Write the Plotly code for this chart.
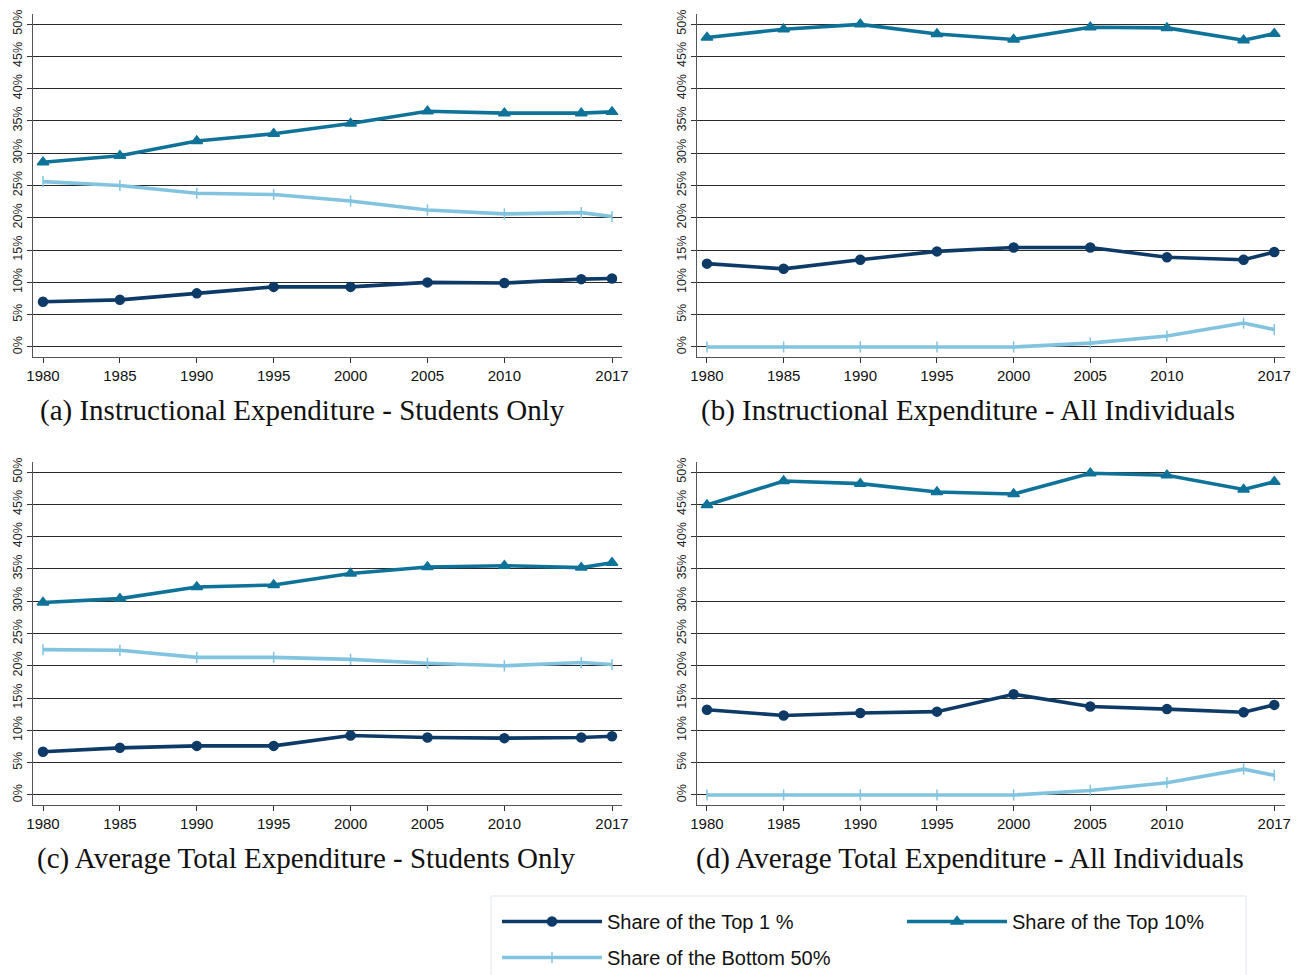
import plotly.graph_objects as go

years = [1980, 1985, 1990, 1995, 2000, 2005, 2010, 2015, 2017]
tick_years = [1980, 1985, 1990, 1995, 2000, 2005, 2010, 2017]

# (a) Instructional Expenditure - Students Only
a_top1 = [7.0, 7.3, 8.3, 9.3, 9.3, 10.0, 9.9, 10.5, 10.6]
a_top10 = [28.6, 29.6, 31.9, 33.0, 34.6, 36.5, 36.2, 36.2, 36.4]
a_bot50 = [25.6, 25.0, 23.8, 23.6, 22.6, 21.2, 20.6, 20.8, 20.2]

# (b) Instructional Expenditure - All Individuals
b_top1 = [12.9, 12.1, 13.5, 14.8, 15.4, 15.4, 13.9, 13.5, 14.7]
b_top10 = [47.9, 49.2, 49.95, 48.45, 47.6, 49.5, 49.4, 47.5, 48.5]
b_bot50 = [0.0, 0.0, 0.0, 0.0, 0.0, 0.6, 1.7, 3.7, 2.7]

# (c) Average Total Expenditure - Students Only
c_top1 = [6.7, 7.3, 7.6, 7.6, 9.2, 8.9, 8.8, 8.9, 9.1]
c_top10 = [29.8, 30.4, 32.2, 32.5, 34.3, 35.3, 35.5, 35.2, 35.95]
c_bot50 = [22.5, 22.4, 21.3, 21.3, 21.0, 20.4, 20.0, 20.5, 20.2]

# (d) Average Total Expenditure - All Individuals
d_top1 = [13.2, 12.3, 12.7, 12.9, 15.6, 13.7, 13.3, 12.8, 13.95]
d_top10 = [44.9, 48.6, 48.2, 46.9, 46.6, 49.8, 49.5, 47.3, 48.5]
d_bot50 = [0.0, 0.0, 0.0, 0.0, 0.0, 0.7, 1.9, 4.0, 3.05]

panel_titles = [
    "(a) Instructional Expenditure - Students Only",
    "(b) Instructional Expenditure - All Individuals",
    "(c) Average Total Expenditure - Students Only",
    "(d) Average Total Expenditure - All Individuals",
]
series_names = ["Share of the Top 1 %", "Share of the Top 10%", "Share of the Bottom 50%"]
series_colors = ["#0d3a66", "#0f7399", "#82c4df"]
series_symbols = ["circle", "triangle-up", "line-ns-open"]
series_msize = [9, 10, 8]
series_legend = ["legend", "legend", "legend2"]

panels = [
    (a_top1, a_top10, a_bot50),
    (b_top1, b_top10, b_bot50),
    (c_top1, c_top10, c_bot50),
    (d_top1, d_top10, d_bot50),
]

W, H = 1304, 975
fig = go.Figure()

# pixel geometry of the plot areas (left, right, top, bottom)
boxes = [
    (33, 622, 14, 357),
    (697, 1285, 14, 357),
    (33, 622, 462, 805),
    (697, 1285, 462, 805),
]
xranges = [[1979.35, 2017.65], [1979.35, 2017.7], [1979.35, 2017.65], [1979.35, 2017.7]]

for i, (vals, box) in enumerate(zip(panels, boxes)):
    ax = "" if i == 0 else str(i + 1)
    for k in [2, 1, 0]:
        fig.add_trace(go.Scatter(
            x=years, y=vals[k],
            mode="lines+markers",
            name=series_names[k],
            showlegend=(i == 0),
            legend=series_legend[k],
            line=dict(color=series_colors[k], width=3.6),
            marker=dict(symbol=series_symbols[k], size=series_msize[k], color=series_colors[k],
                        line=dict(color=series_colors[k], width=1.5)),
            xaxis="x" + ax, yaxis="y" + ax,
            legendrank=k + 1,
        ))
    l, r, t, b = box
    fig.update_layout(**{
        "xaxis" + ax: dict(
            domain=[l / W, r / W], range=xranges[i],
            tickvals=tick_years, ticktext=[str(y) for y in tick_years],
            showgrid=False, zeroline=False, automargin=False,
            showline=True, linecolor="#555555", linewidth=1.2,
            ticks="outside", ticklen=5, tickcolor="#333333", tickwidth=1,
            tickfont=dict(family="Liberation Sans, Arial", size=15, color="#111111"),
            anchor="y" + ax, fixedrange=True,
        ),
        "yaxis" + ax: dict(
            domain=[1 - b / H, 1 - t / H], range=[-1.55, 51.55],
            tickvals=[0, 5, 10, 15, 20, 25, 30, 35, 40, 45, 50],
            ticktext=["0%", "5%", "10%", "15%", "20%", "25%", "30%", "35%", "40%", "45%", "50%"],
            tickangle=-90, automargin=False,
            showgrid=True, gridcolor="#2a2a2a", gridwidth=1,
            zeroline=False,
            showline=True, linecolor="#555555", linewidth=1.2,
            ticks="outside", ticklen=5, tickcolor="#333333", tickwidth=1,
            tickfont=dict(family="Liberation Sans, Arial", size=12.5, color="#222222"),
            anchor="x" + ax, fixedrange=True,
        ),
    })

title_pos = [(38, 410), (699, 410), (35, 858), (694, 858)]
for (px, py), txt in zip(title_pos, panel_titles):
    fig.add_annotation(
        x=px / W, y=1 - py / H, xref="paper", yref="paper",
        xanchor="left", yanchor="middle", showarrow=False,
        text=txt, font=dict(family="Liberation Serif, Times New Roman, serif", size=29, color="#111111"),
    )

# legend frame
fig.add_shape(type="rect", xref="paper", yref="paper",
              x0=491 / W, x1=1246 / W, y0=-0.02, y1=1 - 896 / H,
              line=dict(color="#dfe6ee", width=1), fillcolor="rgba(0,0,0,0)", layer="below")

legend_common = dict(
    orientation="h", xanchor="left", yanchor="top",
    entrywidth=290, entrywidthmode="pixels",
    itemwidth=100,
    font=dict(family="Liberation Sans, Arial", size=20, color="#111111"),
    borderwidth=0, bgcolor="rgba(0,0,0,0)",
    traceorder="normal",
)

fig.update_layout(
    width=W, height=H,
    margin=dict(l=0, r=0, t=0, b=0, autoexpand=False),
    paper_bgcolor="white", plot_bgcolor="white",
    legend=dict(x=497 / W, y=1 - 902 / H, **legend_common),
    legend2=dict(x=497 / W, y=1 - 938 / H, **legend_common),
)

fig.write_html(
    "out.html",
    config={"displayModeBar": False},
    post_script="document.body.style.margin='0';document.body.style.overflow='hidden';",
)
